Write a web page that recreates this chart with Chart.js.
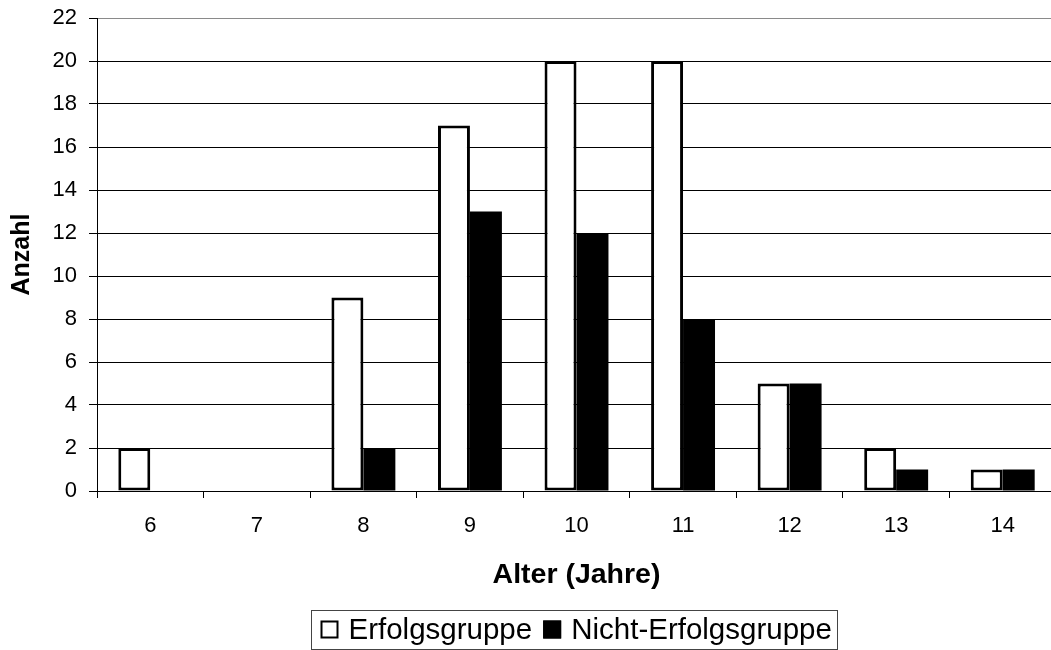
<!DOCTYPE html>
<html lang="de">
<head>
<meta charset="utf-8">
<title>Alter (Jahre)</title>
<script src="https://cdn.jsdelivr.net/npm/chart.js@4/dist/chart.umd.min.js"></script>
<style>
  html, body { margin: 0; padding: 0; background: #fff; overflow: hidden; }
  #wrap { width: 1051px; height: 650px; overflow: hidden; }
  canvas { display: block; }
</style>
</head>
<body>
<div id="wrap"><canvas id="chart" width="1070" height="650"></canvas></div>
<script>
// Age groups on the x axis
const ages = ['6', '7', '8', '9', '10', '11', '12', '13', '14'];
// Counts per age
const erfolgsgruppe = [2, 0, 9, 17, 20, 20, 5, 2, 1];
const nichtErfolgsgruppe = [0, 0, 2, 13, 12, 8, 5, 1, 1];
// Axis range
const yMin = 0;
const yMax = 22;
const yStep = 2;

const FONT = "'Liberation Sans', Arial, Helvetica, sans-serif";

// Legend with a framed box underneath the x axis title
const boxedLegend = {
  id: 'boxedLegend',
  afterDraw(chart, args, opts) {
    const ctx = chart.ctx;
    ctx.save();
    ctx.font = opts.fontSize + 'px ' + FONT;
    const items = chart.data.datasets.map(ds => ({
      label: ds.label,
      fill: ds.backgroundColor,
      stroke: '#000',
      w: ctx.measureText(ds.label).width
    }));
    const box = opts.boxSize;
    let total = opts.padLeft + opts.padRight + opts.itemGap * (items.length - 1);
    items.forEach(it => { total += box + opts.textGap + it.w; });
    const cx = (chart.chartArea.left + chart.chartArea.right) / 2 + opts.shift;
    const left = Math.round(cx - total / 2) + 0.5;
    const top = opts.top + 0.5;
    ctx.strokeStyle = opts.frameColor;
    ctx.lineWidth = 1;
    ctx.strokeRect(left, top, Math.round(total), opts.height);
    const mid = opts.top + opts.height / 2;
    let x = left + opts.padLeft;
    items.forEach(it => {
      ctx.fillStyle = it.fill;
      ctx.fillRect(x, mid - box / 2, box, box);
      ctx.strokeStyle = it.stroke;
      ctx.lineWidth = 2;
      ctx.strokeRect(x + 1, mid - box / 2 + 1, box - 2, box - 2);
      x += box + opts.textGap;
      ctx.fillStyle = '#000';
      ctx.textBaseline = 'middle';
      ctx.textAlign = 'left';
      ctx.fillText(it.label, x, mid + 1);
      x += it.w + opts.itemGap;
    });
    ctx.restore();
  }
};

new Chart(document.getElementById('chart'), {
  type: 'bar',
  data: {
    labels: ages,
    datasets: [
      {
        label: 'Erfolgsgruppe',
        data: erfolgsgruppe,
        backgroundColor: '#ffffff',
        borderColor: '#000000',
        borderWidth: 3,
        borderSkipped: false
      },
      {
        label: 'Nicht-Erfolgsgruppe',
        data: nichtErfolgsgruppe,
        backgroundColor: '#000000',
        borderColor: '#000000',
        borderWidth: 0
      }
    ]
  },
  options: {
    responsive: false,
    animation: false,
    devicePixelRatio: 1,
    layout: { padding: { top: 18, right: 14, bottom: 50, left: 0 } },
    categoryPercentage: 0.6,
    barPercentage: 1.0,
    plugins: {
      legend: { display: false },
      tooltip: { enabled: false },
      boxedLegend: {
        fontSize: 29.5,
        boxSize: 18,
        textGap: 10,
        itemGap: 11,
        padLeft: 9,
        padRight: 6,
        top: 610,
        height: 39,
        shift: -2,
        frameColor: '#444'
      }
    },
    scales: {
      x: {
        offset: true,
        grid: {
          offset: true,
          drawOnChartArea: false,
          drawTicks: true,
          tickLength: 7,
          tickColor: '#000',
          tickWidth: 1
        },
        border: { display: true, color: '#000', width: 1 },
        ticks: {
          color: '#000',
          padding: 15,
          font: { family: FONT, size: 22 }
        },
        title: {
          display: true,
          text: 'Alter (Jahre)',
          color: '#000',
          font: { family: FONT, size: 28.5, weight: 'bold', lineHeight: 1.2 },
          padding: { top: 0, bottom: 8 }
        },
        afterFit(scale) { scale.height = 109; }
      },
      y: {
        min: yMin,
        max: yMax,
        ticks: {
          stepSize: yStep,
          color: '#000',
          padding: 12,
          font: { family: FONT, size: 22 }
        },
        grid: {
          color: ctx => (ctx.tick && ctx.tick.value === yMax ? '#8a8a8a' : '#000'),
          lineWidth: 1,
          drawTicks: true,
          tickLength: 8,
          tickColor: '#000'
        },
        border: { display: true, color: '#000', width: 1 },
        title: {
          display: true,
          text: 'Anzahl',
          color: '#000',
          font: { family: FONT, size: 25, weight: 'bold', lineHeight: 1.2 },
          padding: { top: 7, bottom: 0 }
        },
        afterFit(scale) {
          scale.width = 97;
          scale.paddingTop = 0;
          scale.paddingBottom = 0;
        }
      }
    }
  },
  plugins: [boxedLegend]
});
</script>
</body>
</html>
